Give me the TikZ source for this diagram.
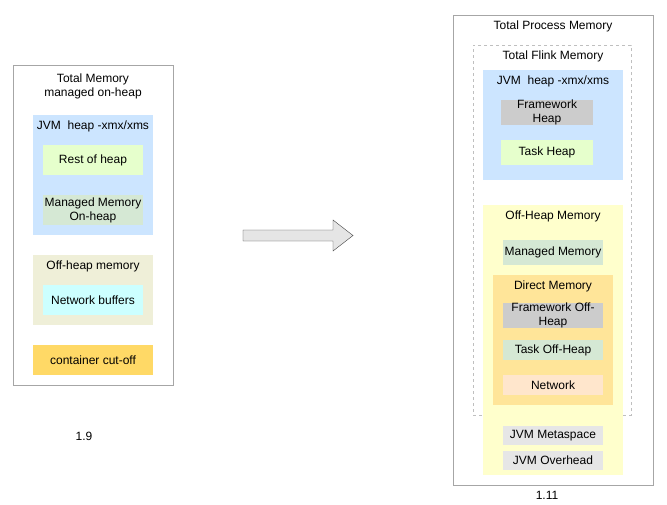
\documentclass[tikz,border=0pt]{standalone}
\usepackage{fontspec}
\setmainfont{Liberation Sans}
\usepackage{tikz}

\definecolor{heapblue}{HTML}{CCE5FF}
\definecolor{restgreen}{HTML}{E6FFCC}
\definecolor{mgdgreen}{HTML}{D5E8D4}
\definecolor{offolive}{HTML}{EFEFD8}
\definecolor{netcyan}{HTML}{CCFFFF}
\definecolor{cutorange}{HTML}{FFD966}
\definecolor{fwgray}{HTML}{CCCCCC}
\definecolor{offyellow}{HTML}{FFFFCC}
\definecolor{directorange}{HTML}{FFE599}
\definecolor{netpeach}{HTML}{FFE6CC}
\definecolor{jvmgray}{HTML}{E6E6E6}
\definecolor{framegray}{HTML}{A6A6A6}

\begin{document}
\begin{tikzpicture}[
        x=1pt, y=-1pt,
        every node/.style={font=\fontsize{12}{14}\selectfont, inner sep=0pt, align=center},
        frame/.style={draw=framegray, rectangle},
        area/.style={rectangle},
        block/.style={rectangle, minimum width=100, minimum height=30},
        caption/.style={anchor=center},
        bigarrow/.style={draw=black!75, fill=black!10, line join=miter}
    ]
    \useasboundingbox (0,0) rectangle (667,504);

    % Version 1.9
    \node[frame, minimum width=160, minimum height=320] (total) at (93,225) {};
    \node[caption] (totaltitle) at (93,86.5) {Total Memory\\managed on-heap};
    \node[area, fill=heapblue, minimum width=120, minimum height=120] (heapold) at (93,175) {};
    \node[caption] (heapoldtitle) at (93,126) {JVM\ \ heap -xmx/xms};
    \node[block, fill=restgreen] (rest) at (93,160) {Rest of heap};
    \node[block, fill=mgdgreen] (mgdon) at (93,210) {Managed Memory\\On-heap};
    \node[area, fill=offolive, minimum width=120, minimum height=70] (offold) at (93,290) {};
    \node[caption] (offoldtitle) at (93,266) {Off-heap memory};
    \node[block, fill=netcyan] (netbuf) at (93,300) {Network buffers};
    \node[block, fill=cutorange, minimum width=120] (cutoff) at (93,360) {container cut-off};
    \node[caption] (oldver) at (84,436) {1.9};

    % Arrow
    \coordinate (a1) at (243,230);
    \coordinate (a2) at (333,230);
    \coordinate (a3) at (333,220);
    \coordinate (a4) at (353,235.5);
    \coordinate (a5) at (333,251);
    \coordinate (a6) at (333,241);
    \coordinate (a7) at (243,241);
    \draw[bigarrow] (a1) -- (a2) -- (a3) -- (a4) -- (a5) -- (a6) -- (a7) -- cycle;

    % Version 1.11
    \node[frame, minimum width=200, minimum height=470] (process) at (553,250) {};
    \node[caption] (processtitle) at (553,26) {Total Process Memory};
    \node[draw=black!25, dashed, minimum width=158, minimum height=370] (flink) at (552,230) {};
    \node[caption] (flinktitle) at (553,56) {Total Flink Memory};
    \node[area, fill=heapblue, minimum width=140, minimum height=110] (heapnew) at (553,125) {};
    \node[caption] (heapnewtitle) at (553,81) {JVM\ \ heap -xmx/xms};
    \node[block, fill=fwgray, minimum width=92, minimum height=25] (fwheap) at (547,112.5) {Framework\\Heap};
    \node[block, fill=restgreen, minimum width=92, minimum height=25] (taskheap) at (547,152.5) {Task Heap};
    \node[area, fill=offyellow, minimum width=140, minimum height=270] (offnew) at (553,340) {};
    \node[caption] (offnewtitle) at (553,216) {Off-Heap Memory};
    \node[block, fill=mgdgreen, minimum height=25] (managed) at (553,252.5) {Managed Memory};
    \node[area, fill=directorange, minimum width=120, minimum height=130] (direct) at (553,340) {};
    \node[caption] (directtitle) at (553,286) {Direct Memory};
    \node[block, fill=fwgray, minimum height=19] (fwoff) at (553,315.5) {Framework Off-\\Heap};
    \node[block, fill=mgdgreen, minimum height=20] (taskoff) at (553,350) {Task Off-Heap};
    \node[block, fill=netpeach, minimum height=20] (network) at (553,385) {Network};
    \node[block, fill=jvmgray, minimum height=19] (meta) at (553,435.5) {JVM Metaspace};
    \node[block, fill=jvmgray, minimum height=19] (overhead) at (553,460.5) {JVM Overhead};
    \node[caption] (newver) at (547,495) {1.11};

\end{tikzpicture}
\end{document}
